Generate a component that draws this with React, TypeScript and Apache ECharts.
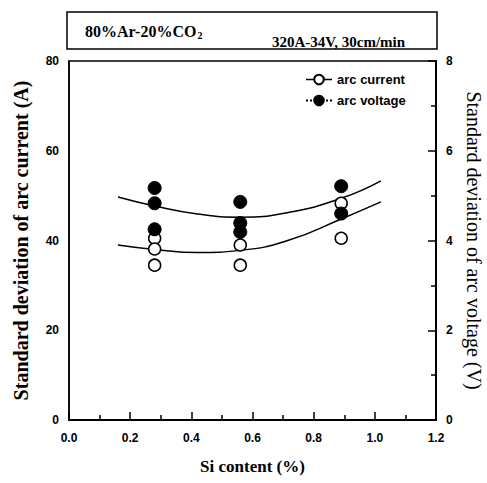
import React, { useEffect, useRef } from "react";
import * as echarts from "echarts";

const siCurrent = [0.28, 0.28, 0.28, 0.56, 0.56, 0.89, 0.89];
const currentA = [40.5, 38.1, 34.5, 39.0, 34.5, 48.3, 40.5];
const siVoltage = [0.28, 0.28, 0.28, 0.56, 0.56, 0.56, 0.89, 0.89];
const voltageV = [5.17, 4.83, 4.25, 4.86, 4.39, 4.19, 5.21, 4.6];
const fitSi = [0.16, 0.28, 0.42, 0.56, 0.72, 0.89, 1.02];
const currentFit = [39.0, 38.0, 37.3, 37.8, 40.1, 44.8, 48.6];
const voltageFit = [4.97, 4.77, 4.59, 4.52, 4.63, 4.94, 5.33];
const xTicks = [0, 0.2, 0.4, 0.6, 0.8, 1.0, 1.2];

const SERIF = '"Liberation Serif", "Times New Roman", serif';
const SANS = '"Liberation Sans", Arial, sans-serif';

export default function App() {
  const ref = useRef<HTMLDivElement>(null);
  useEffect(() => {
    if (!ref.current) return;
    const chart = echarts.init(ref.current, null, { renderer: "svg" });
    const pair = (xs: number[], ys: number[]) => xs.map((x, i) => [x, ys[i]]);
    chart.setOption({
      animation: false,
      backgroundColor: "#fff",
      grid: {
        left: 69, right: 51, top: 61, bottom: 63, show: true, borderColor: "#000", borderWidth: 1.5,
        containLabel: false, outerBoundsMode: "none",
      },
      graphic: [
        { type: "rect", shape: { x: 67, y: 12, width: 370, height: 37 }, style: { fill: "none", stroke: "#000", lineWidth: 1.5 } },
        {
          type: "text", x: 85, y: 22,
          style: {
            text: "{a|80%Ar-20%CO}{s|2}",
            rich: {
              a: { fontFamily: SERIF, fontWeight: "bold", fontSize: 16, fill: "#000" },
              s: { fontFamily: SERIF, fontWeight: "bold", fontSize: 10, fill: "#000", padding: [8, 0, 0, 1] },
            },
          },
        },
        {
          type: "text", x: 272, y: 34,
          style: { text: "320A-34V, 30cm/min", fontFamily: SERIF, fontWeight: "bold", fontSize: 15, fill: "#000" },
        },
      ],
      legend: {
        orient: "vertical", left: 300, top: 68, itemGap: 8, itemWidth: 26, itemHeight: 12,
        textStyle: { fontFamily: SANS, fontSize: 13, fontWeight: "bold", color: "#000" },
        data: [
          { name: "arc current", lineStyle: { opacity: 1, color: "#000", width: 1.5, type: "solid" } },
          { name: "arc voltage", lineStyle: { opacity: 1, color: "#000", width: 2, type: "dotted" } },
        ],
      },
      xAxis: {
        type: "value", min: 0, max: 1.2, interval: 0.2,
        name: "Si content (%)", nameLocation: "middle", nameGap: 38,
        nameTextStyle: { fontFamily: SERIF, fontWeight: "bold", fontSize: 17, color: "#000" },
        axisLine: { lineStyle: { color: "#000", width: 2 } },
        axisTick: { inside: true, length: 8, lineStyle: { color: "#000", width: 1.5 } },
        minorTick: { show: true, splitNumber: 2, length: 5, lineStyle: { color: "#000", width: 1.5 } },
        splitLine: { show: false },
        axisLabel: {
          margin: 12, fontFamily: SANS, fontWeight: "bold", fontSize: 12, color: "#000",
          formatter: (v: number) => (xTicks.some((t) => Math.abs(t - v) < 1e-6) ? v.toFixed(1) : ""),
        },
      },
      yAxis: [
        {
          type: "value", min: 0, max: 80, interval: 20, position: "left",
          name: "Standard deviation of arc current (A)", nameLocation: "middle", nameGap: 38,
          nameTextStyle: { fontFamily: SERIF, fontWeight: "bold", fontSize: 20, color: "#000" },
          axisLine: { show: true, lineStyle: { color: "#000", width: 1.5 } },
          axisTick: { show: false },
          splitLine: { show: false },
          axisLabel: { margin: 10, fontFamily: SANS, fontWeight: "bold", fontSize: 12, color: "#000" },
        },
        {
          type: "value", min: 0, max: 8, interval: 2, position: "right",
          name: "Standard deviation of arc voltage (V)", nameLocation: "middle", nameGap: 28, nameRotate: -90,
          nameTextStyle: { fontFamily: SERIF, fontSize: 20, color: "#000" },
          axisLine: { show: true, lineStyle: { color: "#000", width: 2 } },
          axisTick: { inside: true, length: 8, lineStyle: { color: "#000", width: 1.5 } },
          minorTick: { show: true, splitNumber: 2, length: 5, lineStyle: { color: "#000", width: 1.5 } },
          splitLine: { show: false },
          axisLabel: { margin: 10, fontFamily: SANS, fontWeight: "bold", fontSize: 12, color: "#000" },
        },
      ],
      series: [
        {
          name: "current fit", type: "line", yAxisIndex: 0, smooth: true, showSymbol: false,
          data: pair(fitSi, currentFit), lineStyle: { color: "#000", width: 1.5 }, silent: true,
        },
        {
          name: "voltage fit", type: "line", yAxisIndex: 1, smooth: true, showSymbol: false,
          data: pair(fitSi, voltageFit), lineStyle: { color: "#000", width: 1.5 }, silent: true,
        },
        {
          name: "arc current", type: "line", yAxisIndex: 0, symbol: "circle", symbolSize: 12,
          data: pair(siCurrent, currentA), lineStyle: { opacity: 0 },
          itemStyle: { color: "#fff", borderColor: "#000", borderWidth: 1.5 },
        },
        {
          name: "arc voltage", type: "line", yAxisIndex: 1, symbol: "circle", symbolSize: 13,
          data: pair(siVoltage, voltageV), lineStyle: { opacity: 0 },
          itemStyle: { color: "#000", borderColor: "#000", borderWidth: 1 },
        },
      ],
    });
    return () => chart.dispose();
  }, []);
  return <div ref={ref} style={{ width: 487, height: 483, position: "absolute", left: 0, top: 0 }} />;
}
